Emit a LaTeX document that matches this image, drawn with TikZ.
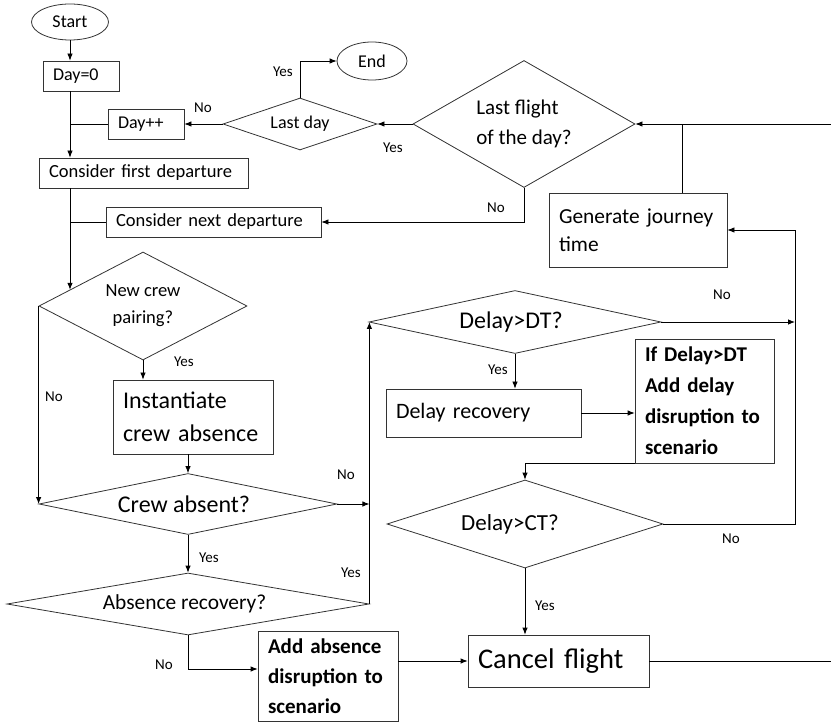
\documentclass[tikz,border=0pt]{standalone}
\usepackage{fontspec}
\setmainfont{Carlito}
\usetikzlibrary{shapes.geometric, arrows.meta, calc, positioning}

\tikzset{
    fs/.style 2 args={font=\fontsize{#1}{#2}\selectfont},
    fsb/.style 2 args={font=\fontsize{#1}{#2}\selectfont\bfseries},
    box/.style={draw=black!80, rectangle, inner xsep=10pt, inner ysep=0pt, align=left},
    decision/.style={draw=black!80, diamond, inner sep=0pt, align=center},
    terminal/.style={draw=black!80, ellipse, inner sep=0pt},
    lbl/.style={inner sep=0pt, font=\fontsize{15}{18}\selectfont},
}

\begin{document}
\begin{tikzpicture}[x=1pt, y=-1pt, >={Latex[length=7pt, width=5.5pt]}, line width=0.8pt]
\useasboundingbox (0,0) rectangle (831,722);

\node[terminal, fs={18}{22}, minimum width=77, minimum height=36] (start) at (70,22) {Start};
\node[terminal, fs={18}{22}, minimum width=70, minimum height=38] (end) at (372,61) {End};

\node[box, fs={18}{22}, text width=56, minimum height=30] (day0) at (81,76) {Day=0};
\node[box, fs={18}{22}, text width=56, minimum height=30] (dayinc) at (146,124) {Day++};
\node[box, fs={18.5}{22}, text width=189, minimum height=30] (first) at (143.5,173) {Consider first departure};
\node[box, fs={18.5}{22}, text width=195, minimum height=30] (next) at (213.5,222) {Consider next departure};
\node[box, fs={21.4}{28}, text width=158, minimum height=74] (journey) at (638,230) {Generate journey\\time};
\node[box, fs={24}{33}, text width=140, minimum height=74] (instant) at (193,417) {Instantiate\\crew absence};
\node[box, fs={22}{26}, text width=175, minimum height=48] (delayrec) at (483.5,413) {Delay recovery};
\node[box, fsb={21}{31}, text width=119, minimum height=124] (ifdelay) at (704.5,401) {If Delay>DT\\Add delay\\disruption to\\scenario};
\node[box, fsb={21}{30}, text width=120, minimum height=90] (addabs) at (328,676) {Add absence\\disruption to\\scenario};
\node[box, fs={28.5}{34}, text width=161, minimum height=52] (cancel) at (558.5,661) {Cancel flight};

\node[decision, fs={18}{22}, minimum width=154, minimum height=52, aspect=2.96] (lastday) at (300,124) {Last day};
\node[decision, fs={21}{30}, align=left, minimum width=222, minimum height=127, aspect=1.75] (lastflight) at (524,124) {Last flight\\of the day?};
\node[decision, fs={18.5}{27}, minimum width=208, minimum height=108, aspect=1.93] (newcrew) at (143,306) {New crew\\pairing?};
\node[decision, fs={24}{28}, minimum width=298, minimum height=61, aspect=4.89] (crewabs) at (188,504) {Crew absent?\hspace*{8pt}};
\node[decision, fs={21.4}{26}, minimum width=362, minimum height=62, aspect=5.84] (absrec) at (188,604) {Absence recovery?\hspace*{7pt}};
\node[decision, fs={24}{28}, minimum width=292, minimum height=63, aspect=4.63] (dt) at (515,322) {Delay>DT?\hspace*{8pt}};
\node[decision, fs={23}{28}, minimum width=276, minimum height=88, aspect=3.14] (ct) at (525,524) {Delay>CT?\hspace*{30pt}};

\coordinate (exitR) at (831,124);
\coordinate (loopR) at (795,230);
\coordinate (pairIn) at ($(newcrew.west)!0.298!(newcrew.north)$);

\draw[->] (start.south) -- (day0.north -| start.south);
\draw[->] (day0.south -| start.south) -- (first.north -| start.south);
\draw[->] (first.south -| start.south) -- (start.south |- pairIn);
\draw (dayinc.west) -- (dayinc.west -| start.south);
\draw (next.west) -- (next.west -| start.south);

\draw[->] (exitR) -- (lastflight.east);
\draw ([xshift=44pt]journey.north) -- ([xshift=44pt]journey.north |- lastflight.east);
\draw[->] (lastflight.west) -- (lastday.east);
\draw[->] (lastflight.south) |- (next.east);
\draw[->] (lastday.west) -- (dayinc.east);
\draw[->] (lastday.north) |- (end.west);

\draw[->] (newcrew.west) -- (crewabs.west);
\draw[->] (newcrew.south) -- (newcrew.south |- instant.north);
\draw[->] (instant.south -| crewabs.north) -- (crewabs.north);
\draw[->] (crewabs.east) -- (crewabs.east -| absrec.east);
\draw[->] (crewabs.south) -- (absrec.north);
\draw[->] (absrec.east) -- (absrec.east |- dt.west);
\draw[->] (absrec.south) |- ([yshift=7pt]addabs.west);
\draw[->] (addabs.east |- cancel.west) -- (cancel.west);
\draw (cancel.east) -- (cancel.east -| exitR);

\draw[->] (dt.south) -- (dt.south |- delayrec.north);
\draw[->] (dt.east) -- (dt.east -| loopR);
\draw[->] (delayrec.east) -- (delayrec.east -| ifdelay.west);
\draw[->] (ifdelay.south west) -| (ct.north);
\draw[->] (ct.east) -| (loopR) -- (journey.east);
\draw[->] (ct.south) -- (ct.south |- cancel.north);

\node[lbl] (yesEnd) at (283,72) {Yes};
\node[lbl] (noDay) at (203,108) {No};
\node[lbl] (yesDay) at (393,148) {Yes};
\node[lbl] (noFlight) at (496,208) {No};
\node[lbl] (noDT) at (722,295) {No};
\node[lbl] (noPair) at (54,397) {No};
\node[lbl] (yesPair) at (184,362) {Yes};
\node[lbl] (noAbs) at (346,475) {No};
\node[lbl] (yesAbs) at (209,558) {Yes};
\node[lbl] (yesRec) at (351,573) {Yes};
\node[lbl] (noRec) at (164,665) {No};
\node[lbl] (yesDT) at (498,370) {Yes};
\node[lbl] (noCT) at (731,539) {No};
\node[lbl] (yesCT) at (545,606) {Yes};

\end{tikzpicture}
\end{document}
